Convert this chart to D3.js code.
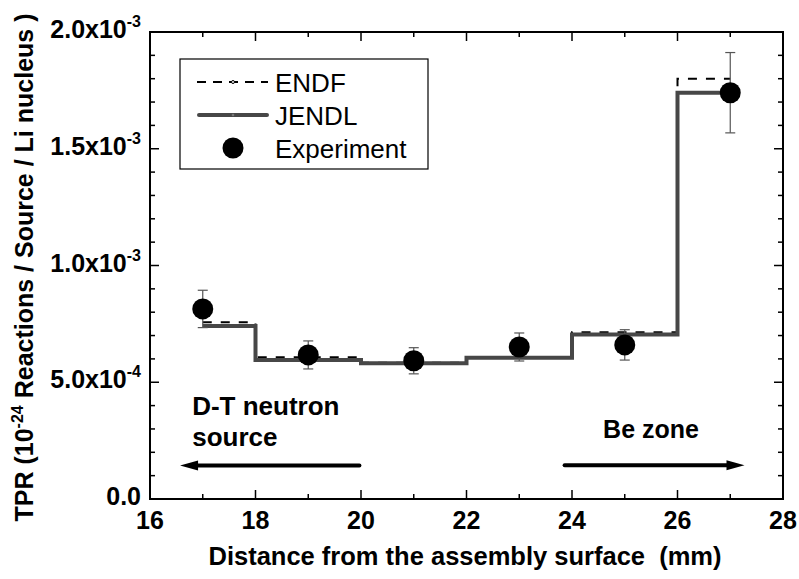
<!DOCTYPE html>
<html>
<head>
<meta charset="utf-8">
<script src="https://cdn.jsdelivr.net/npm/d3@7"></script>
<style>
  body { margin: 0; background: #fff; }
  text { font-family: "Liberation Sans", Arial, sans-serif; }
</style>
</head>
<body>
<div id="vis"></div>
<script>
// data
const positions = [17, 19, 21, 23, 25, 27];
const endfVals  = [7.57e-4, 6.07e-4, 5.83e-4, 6.07e-4, 7.14e-4, 1.80e-3];
const jendlVals = [7.41e-4, 5.95e-4, 5.81e-4, 6.05e-4, 7.05e-4, 1.74e-3];
const expVals   = [8.14e-4, 6.17e-4, 5.92e-4, 6.51e-4, 6.60e-4, 1.74e-3];
const expErr    = [0.80e-4, 0.60e-4, 0.56e-4, 0.60e-4, 0.65e-4, 1.72e-4];
const xTicks = [16, 18, 20, 22, 24, 26, 28];
const yTicks = [0, 5e-4, 1e-3, 1.5e-3, 2e-3];
const yTickLabels = [["0.0", ""], ["5.0x10", "-4"], ["1.0x10", "-3"], ["1.5x10", "-3"], ["2.0x10", "-3"]];

const width = 799, height = 579;
const pLeft = 150, pRight = 783, pTop = 32, pBottom = 499;

const svg = d3.select('#vis')
    .append('svg')
    .attr('width', width)
    .attr('height', height);

const x = d3.scaleLinear().domain([16, 28]).range([pLeft, pRight]);
const y = d3.scaleLinear().domain([0, 2e-3]).range([pBottom, pTop]);

// inward ticks, all four sides
const minorX = d3.range(16, 28.01, 1);
const minorY = d3.range(0, 2.0001e-3, 1e-4);

const ticks = svg.append('g').attr('stroke', '#000').attr('stroke-width', 1.5);
minorX.forEach(v => {
    const l = Math.round(v) % 2 === 0 ? 9 : 5;
    ticks.append('line').attr('x1', x(v)).attr('x2', x(v)).attr('y1', pBottom).attr('y2', pBottom - l);
    ticks.append('line').attr('x1', x(v)).attr('x2', x(v)).attr('y1', pTop).attr('y2', pTop + l);
});
minorY.forEach((v, i) => {
    const l = i % 5 === 0 ? 9 : 5;
    ticks.append('line').attr('x1', pLeft).attr('x2', pLeft + l).attr('y1', y(v)).attr('y2', y(v));
    ticks.append('line').attr('x1', pRight).attr('x2', pRight - l).attr('y1', y(v)).attr('y2', y(v));
});

svg.append('rect')
    .attr('x', pLeft).attr('y', pTop)
    .attr('width', pRight - pLeft).attr('height', pBottom - pTop)
    .attr('fill', 'none').attr('stroke', '#000').attr('stroke-width', 2);

// x tick labels
svg.append('g').selectAll('text')
    .data(xTicks)
    .join('text')
    .attr('x', d => x(d))
    .attr('y', pBottom + 30)
    .attr('text-anchor', 'middle')
    .attr('font-size', 25)
    .attr('font-weight', 'bold')
    .text(d => d);

// y tick labels with superscripts
const yl = svg.append('g').selectAll('text')
    .data(yTicks)
    .join('text')
    .attr('x', pLeft - 9)
    .attr('y', d => y(d) + 6)
    .attr('text-anchor', 'end')
    .attr('font-size', 25)
    .attr('font-weight', 'bold');
yl.append('tspan').text((d, i) => yTickLabels[i][0]);
yl.append('tspan').attr('dy', -11).attr('font-size', 16).text((d, i) => yTickLabels[i][1]);

// axis titles
svg.append('text')
    .attr('x', 465)
    .attr('y', 565)
    .attr('text-anchor', 'middle')
    .attr('font-size', 25.5)
    .attr('font-weight', 'bold')
    .style('white-space', 'pre')
    .text('Distance from the assembly surface  (mm)');

const yt = svg.append('text')
    .attr('transform', `translate(33, ${(pTop + pBottom) / 2 + 2}) rotate(-90)`)
    .attr('text-anchor', 'middle')
    .attr('font-size', 25)
    .attr('font-weight', 'bold');
yt.append('tspan').text('TPR (10');
yt.append('tspan').attr('dy', -10).attr('font-size', 16).text('-24');
yt.append('tspan').attr('dy', 10).text(' Reactions / Source / Li nucleus )');

// step lines
const idx = d3.range(positions.length);
const step = vals => d3.line()
    .x(i => x(positions[i]))
    .y(i => y(vals[i]))
    .curve(d3.curveStep)(idx);

svg.append('path')
    .attr('d', step(endfVals))
    .attr('fill', 'none')
    .attr('stroke', '#000')
    .attr('stroke-width', 2)
    .attr('stroke-dasharray', '9,9');

svg.append('path')
    .attr('d', step(jendlVals))
    .attr('fill', 'none')
    .attr('stroke', '#474747')
    .attr('stroke-width', 4);

// experiment with error bars
const eb = svg.append('g').attr('stroke', '#555').attr('stroke-width', 1.2);
idx.forEach(i => {
    const cx = x(positions[i]);
    const y0 = y(expVals[i] - expErr[i]), y1 = y(expVals[i] + expErr[i]);
    eb.append('line').attr('x1', cx).attr('x2', cx).attr('y1', y0).attr('y2', y1);
    eb.append('line').attr('x1', cx - 5).attr('x2', cx + 5).attr('y1', y0).attr('y2', y0);
    eb.append('line').attr('x1', cx - 5).attr('x2', cx + 5).attr('y1', y1).attr('y2', y1);
});
svg.append('g').selectAll('circle')
    .data(idx)
    .join('circle')
    .attr('cx', i => x(positions[i]))
    .attr('cy', i => y(expVals[i]))
    .attr('r', 10.5)
    .attr('fill', '#000');

// legend
const lg = svg.append('g');
lg.append('rect')
    .attr('x', 180).attr('y', 59).attr('width', 248).attr('height', 110)
    .attr('fill', '#fff').attr('stroke', '#000').attr('stroke-width', 1.2);
lg.append('line').attr('x1', 197).attr('x2', 268).attr('y1', 82).attr('y2', 82)
    .attr('stroke', '#000').attr('stroke-width', 2).attr('stroke-dasharray', '9,7');
lg.append('circle').attr('cx', 233).attr('cy', 82).attr('r', 1.5).attr('fill', '#fff').attr('stroke', '#000');
lg.append('line').attr('x1', 199).attr('x2', 267).attr('y1', 115).attr('y2', 115)
    .attr('stroke', '#474747').attr('stroke-width', 4).attr('stroke-linecap', 'round');
lg.append('circle').attr('cx', 233).attr('cy', 115).attr('r', 1.3).attr('fill', '#777');
lg.append('circle').attr('cx', 233).attr('cy', 148).attr('r', 10.5).attr('fill', '#000');
const legendNames = ['ENDF', 'JENDL', 'Experiment'];
lg.selectAll('text.leg')
    .data(legendNames)
    .join('text')
    .attr('class', 'leg')
    .attr('x', 275)
    .attr('y', (d, i) => 92 + i * 33)
    .attr('font-size', 26)
    .text(d => d);

// annotations
const ann = svg.append('g').attr('font-size', 26).attr('font-weight', 'bold');
ann.append('text').attr('x', x(16.8)).attr('y', y(4.0e-4) + 9).text('D-T neutron');
ann.append('text').attr('x', x(16.8)).attr('y', y(2.64e-4) + 9).text('source');
ann.append('text').attr('x', x(24.59)).attr('y', y(3.0e-4) + 9).attr('font-size', 25).text('Be zone');

function arrow(x0, x1, yv) {
    const dir = Math.sign(x1 - x0);
    svg.append('line')
        .attr('x1', x(x0)).attr('x2', x(x1) - dir * 12)
        .attr('y1', y(yv)).attr('y2', y(yv))
        .attr('stroke', '#000').attr('stroke-width', 4).attr('stroke-linecap', 'round');
    const tx = x(x1), ty = y(yv);
    svg.append('path')
        .attr('d', `M${tx},${ty} L${tx - dir * 18},${ty - 5} L${tx - dir * 18},${ty + 5} Z`)
        .attr('fill', '#000');
}
arrow(19.97, 16.57, 1.43e-4);
arrow(23.86, 27.27, 1.45e-4);
</script>
</body>
</html>
